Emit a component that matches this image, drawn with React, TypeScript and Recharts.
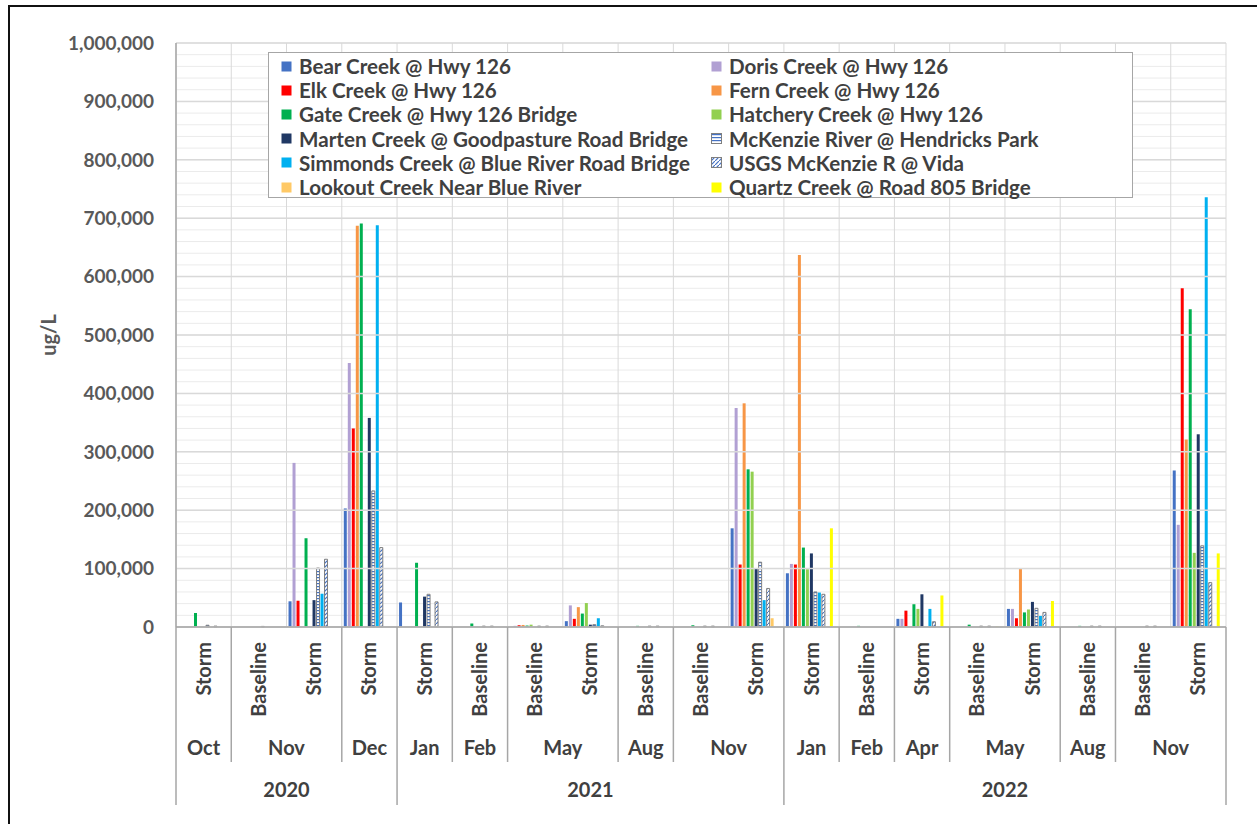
import { Bar, BarChart, CartesianGrid, Label, Legend, ReferenceLine, XAxis, YAxis } from "recharts"

const sampleTypes = ["Storm", "Baseline", "Storm", "Storm", "Storm", "Baseline", "Baseline", "Storm", "Baseline", "Baseline", "Storm", "Storm", "Baseline", "Storm", "Baseline", "Storm", "Baseline", "Baseline", "Storm"]
const months = ["Oct", "Nov", "Nov", "Dec", "Jan", "Feb", "May", "May", "Aug", "Nov", "Nov", "Jan", "Feb", "Apr", "May", "May", "Aug", "Nov", "Nov"]
const years = ["2020", "2020", "2020", "2020", "2021", "2021", "2021", "2021", "2021", "2021", "2021", "2022", "2022", "2022", "2022", "2022", "2022", "2022", "2022"]

const bearCreek = [null, null, 44000, 203000, 42000, null, null, 10000, null, null, 169000, 92000, null, 14000, null, 31000, null, null, 268000]
const dorisCreek = [null, null, 281000, 452000, null, null, 2000, 37000, null, null, 375000, 108000, null, 14000, null, 31000, null, null, 175000]
const elkCreek = [null, null, 45000, 340000, null, null, 3000, 14000, null, null, 107000, 107000, null, 28000, null, 15000, null, null, 580000]
const fernCreek = [null, null, null, 687000, null, null, 3500, 34000, null, null, 383000, 637000, null, null, null, 101000, null, null, 321000]
const gateCreek = [24000, null, 152000, 691000, 110000, 6000, 2500, 23000, 2000, 3000, 270000, 136000, 2000, 39000, 4000, 25000, 2000, null, 544000]
const hatcheryCreek = [null, null, null, null, null, null, 4000, 41000, null, null, 266000, 99000, null, 31000, null, 30000, null, null, 127000]
const martenCreek = [null, null, 46000, 358000, 52000, null, null, 4000, null, null, 101000, 126000, null, 56000, null, 43000, null, null, 330000]
const mckenzieHendricks = [3000, 1000, 101000, 233000, 56000, 1500, 1500, 4000, 1500, 1500, 111000, 60000, null, null, 1500, 32000, 1500, 1500, 139000]
const simmondsCreek = [null, null, 57000, 688000, null, null, null, 15000, null, null, 46000, 59000, null, 31000, null, 19000, null, null, 736000]
const usgsVida = [1500, null, 116000, 136000, 43000, 1500, 1500, 2000, 1500, 1500, 66000, 56000, null, 9000, 1500, 25000, 1500, 1500, 76000]
const lookoutCreek = [null, null, null, null, null, null, null, null, null, null, 15000, null, null, null, null, null, null, null, null]
const quartzCreek = [null, null, null, null, null, null, null, null, null, null, null, 169000, null, 54000, 1000, 44500, null, null, 126000]

const majorTicks = [0, 100000, 200000, 300000, 400000, 500000, 600000, 700000, 800000, 900000, 1000000]
const minorTicks = Array.from({ length: 51 }, (_, i) => i * 20000)

const series = [
  { key: "bear", name: "Bear Creek @ Hwy 126", values: bearCreek, fill: "#4472C4" },
  { key: "doris", name: "Doris Creek @ Hwy 126", values: dorisCreek, fill: "#B1A0D3" },
  { key: "elk", name: "Elk Creek @ Hwy 126", values: elkCreek, fill: "#FF0000" },
  { key: "fern", name: "Fern Creek @ Hwy 126", values: fernCreek, fill: "#F79646" },
  { key: "gate", name: "Gate Creek @ Hwy 126 Bridge", values: gateCreek, fill: "#00B050" },
  { key: "hatchery", name: "Hatchery Creek @ Hwy 126", values: hatcheryCreek, fill: "#92D050" },
  { key: "marten", name: "Marten Creek @ Goodpasture Road Bridge", values: martenCreek, fill: "#203864" },
  { key: "mckenzie", name: "McKenzie River @ Hendricks Park", values: mckenzieHendricks, fill: "url(#hLines)", stroke: "#7f7f7f" },
  { key: "simmonds", name: "Simmonds Creek @ Blue River Road Bridge", values: simmondsCreek, fill: "#00B0F0" },
  { key: "usgs", name: "USGS McKenzie R @ Vida", values: usgsVida, fill: "url(#dLines)", stroke: "#7f7f7f" },
  { key: "lookout", name: "Lookout Creek Near Blue River", values: lookoutCreek, fill: "#FFC966" },
  { key: "quartz", name: "Quartz Creek @ Road 805 Bridge", values: quartzCreek, fill: "#FFFF00" },
]

const data = sampleTypes.map((s, i) => {
  const row: Record<string, any> = { id: i, sample: s }
  series.forEach((se) => (row[se.key] = se.values[i]))
  return row
})

const W = 1257
const H = 824
const PLOT_LEFT = 176
const PLOT_RIGHT = 1226
const FONT = "Lato, 'Open Sans', sans-serif"
const TEXT = "#404040"
const SEP = "#a6a6a6"

function groupLen(arr: string[], i: number) {
  let n = 1
  while (i + n < arr.length && arr[i + n] === arr[i] && years[i + n] === years[i]) n++
  return n
}

function CategoryTick(props: any) {
  const { x, y, payload } = props
  const i = payload?.index ?? props.index
  const band = (PLOT_RIGHT - PLOT_LEFT) / sampleTypes.length
  const left = x - band / 2
  const monthStart = i === 0 || months[i] !== months[i - 1] || years[i] !== years[i - 1]
  const yearStart = i === 0 || years[i] !== years[i - 1]
  const last = i === sampleTypes.length - 1
  return (
    <g fontFamily={FONT} fontWeight={700} fill={TEXT}>
      <text transform={`translate(${x + 7},${y + 15}) rotate(-90)`} textAnchor="end" fontSize={20}>
        {sampleTypes[i]}
      </text>
      {monthStart && (
        <>
          <line x1={left} x2={left} y1={y} y2={yearStart ? y + 178 : y + 135} stroke={SEP} strokeWidth={1.5} />
          <text x={left + (groupLen(months, i) * band) / 2} y={y + 128} textAnchor="middle" fontSize={20}>
            {months[i]}
          </text>
        </>
      )}
      {yearStart && (
        <text x={left + (groupLen(years, i) * band) / 2} y={y + 170} textAnchor="middle" fontSize={20}>
          {years[i]}
        </text>
      )}
      {last && <line x1={x + band / 2} x2={x + band / 2} y1={y} y2={y + 178} stroke={SEP} strokeWidth={1.5} />}
    </g>
  )
}

function LegendBox() {
  return (
    <div
      style={{
        width: 865,
        height: 146,
        border: "1.5px solid #a6a6a6",
        background: "#fff",
        boxSizing: "border-box",
        display: "grid",
        gridTemplateColumns: "430px 1fr",
        gridAutoRows: "24.2px",
        paddingTop: 1,
        fontFamily: FONT,
        fontWeight: 700,
        fontSize: 20.6,
        color: TEXT,
      }}
    >
      {series.map((s) => (
        <div key={s.key} style={{ display: "flex", alignItems: "center", whiteSpace: "nowrap" }}>
          <svg width={11} height={11} style={{ marginLeft: 12, marginRight: 7 }}>
            <rect x={0.5} y={0.5} width={10} height={10} fill={s.fill} stroke={s.stroke ?? "none"} />
          </svg>
          <span>{s.name}</span>
        </div>
      ))}
    </div>
  )
}

export default function App() {
  return (
    <div style={{ position: "absolute", left: 0, top: 0, width: W, height: H, background: "#fff", overflow: "hidden" }}>
      <div style={{ position: "absolute", left: 8, top: 5, width: 1300, height: 900, borderLeft: "2px solid #111", borderTop: "2px solid #111" }} />
      <BarChart
        width={W}
        height={H}
        data={data}
        margin={{ top: 43, right: W - PLOT_RIGHT, bottom: 0, left: 0 }}
        barCategoryGap={2}
        barGap={1}
        style={{ position: "absolute", left: 0, top: 0 }}
      >
        <defs>
          <pattern id="hLines" patternUnits="userSpaceOnUse" width={4} height={3}>
            <rect width={4} height={3} fill="#ffffff" />
            <rect y={1} width={4} height={1.2} fill="#4472C4" />
          </pattern>
          <pattern id="dLines" patternUnits="userSpaceOnUse" width={4} height={4}>
            <rect width={4} height={4} fill="#ffffff" />
            <path d="M-1,5 L5,-1" stroke="#4472C4" strokeWidth={1.2} />
          </pattern>
        </defs>
        <CartesianGrid horizontal vertical={false} stroke="#ebebeb" />
        <CartesianGrid
          horizontal={false}
          vertical
          stroke="#d9d9d9"
          verticalCoordinatesGenerator={({ offset }: any) =>
            Array.from({ length: sampleTypes.length + 1 }, (_, i) => offset.left + (i * offset.width) / sampleTypes.length)
          }
        />
        {majorTicks.map((t) => (
          <ReferenceLine key={t} y={t} stroke="#d9d9d9" strokeWidth={1.5} />
        ))}
        <XAxis
          dataKey="id"
          interval={0}
          height={H - 627}
          tickLine={false}
          tickSize={0}
          tickMargin={0}
          axisLine={{ stroke: SEP, strokeWidth: 1.5 }}
          tick={<CategoryTick />}
        />
        <YAxis
          width={PLOT_LEFT}
          domain={[0, 1000000]}
          ticks={minorTicks}
          interval={0}
          tickLine={false}
          tickSize={0}
          tickMargin={22}
          axisLine={{ stroke: SEP, strokeWidth: 1.5 }}
          tickFormatter={(v: number) => (v % 100000 === 0 ? v.toLocaleString("en-US") : "")}
          tick={{ fill: "#595959", fontFamily: FONT, fontWeight: 700, fontSize: 19 }}
        >
          <Label
            content={() => (
              <text
                transform="translate(56,335) rotate(-90)"
                textAnchor="middle"
                fontFamily={FONT}
                fontWeight={700}
                fontSize={20}
                fill="#595959"
              >
                ug/L
              </text>
            )}
          />
        </YAxis>
        <Legend
          layout="horizontal"
          align="center"
          verticalAlign="middle"
          content={<LegendBox />}
          wrapperStyle={{ left: 268, top: 52, width: 865, height: 146 }}
        />
        {series.map((s) => (
          <Bar
            key={s.key}
            dataKey={s.key}
            name={s.name}
            fill={s.fill}
            stroke={s.stroke}
            strokeWidth={s.stroke ? 1 : 0}
            isAnimationActive={false}
          />
        ))}
      </BarChart>
    </div>
  )
}
